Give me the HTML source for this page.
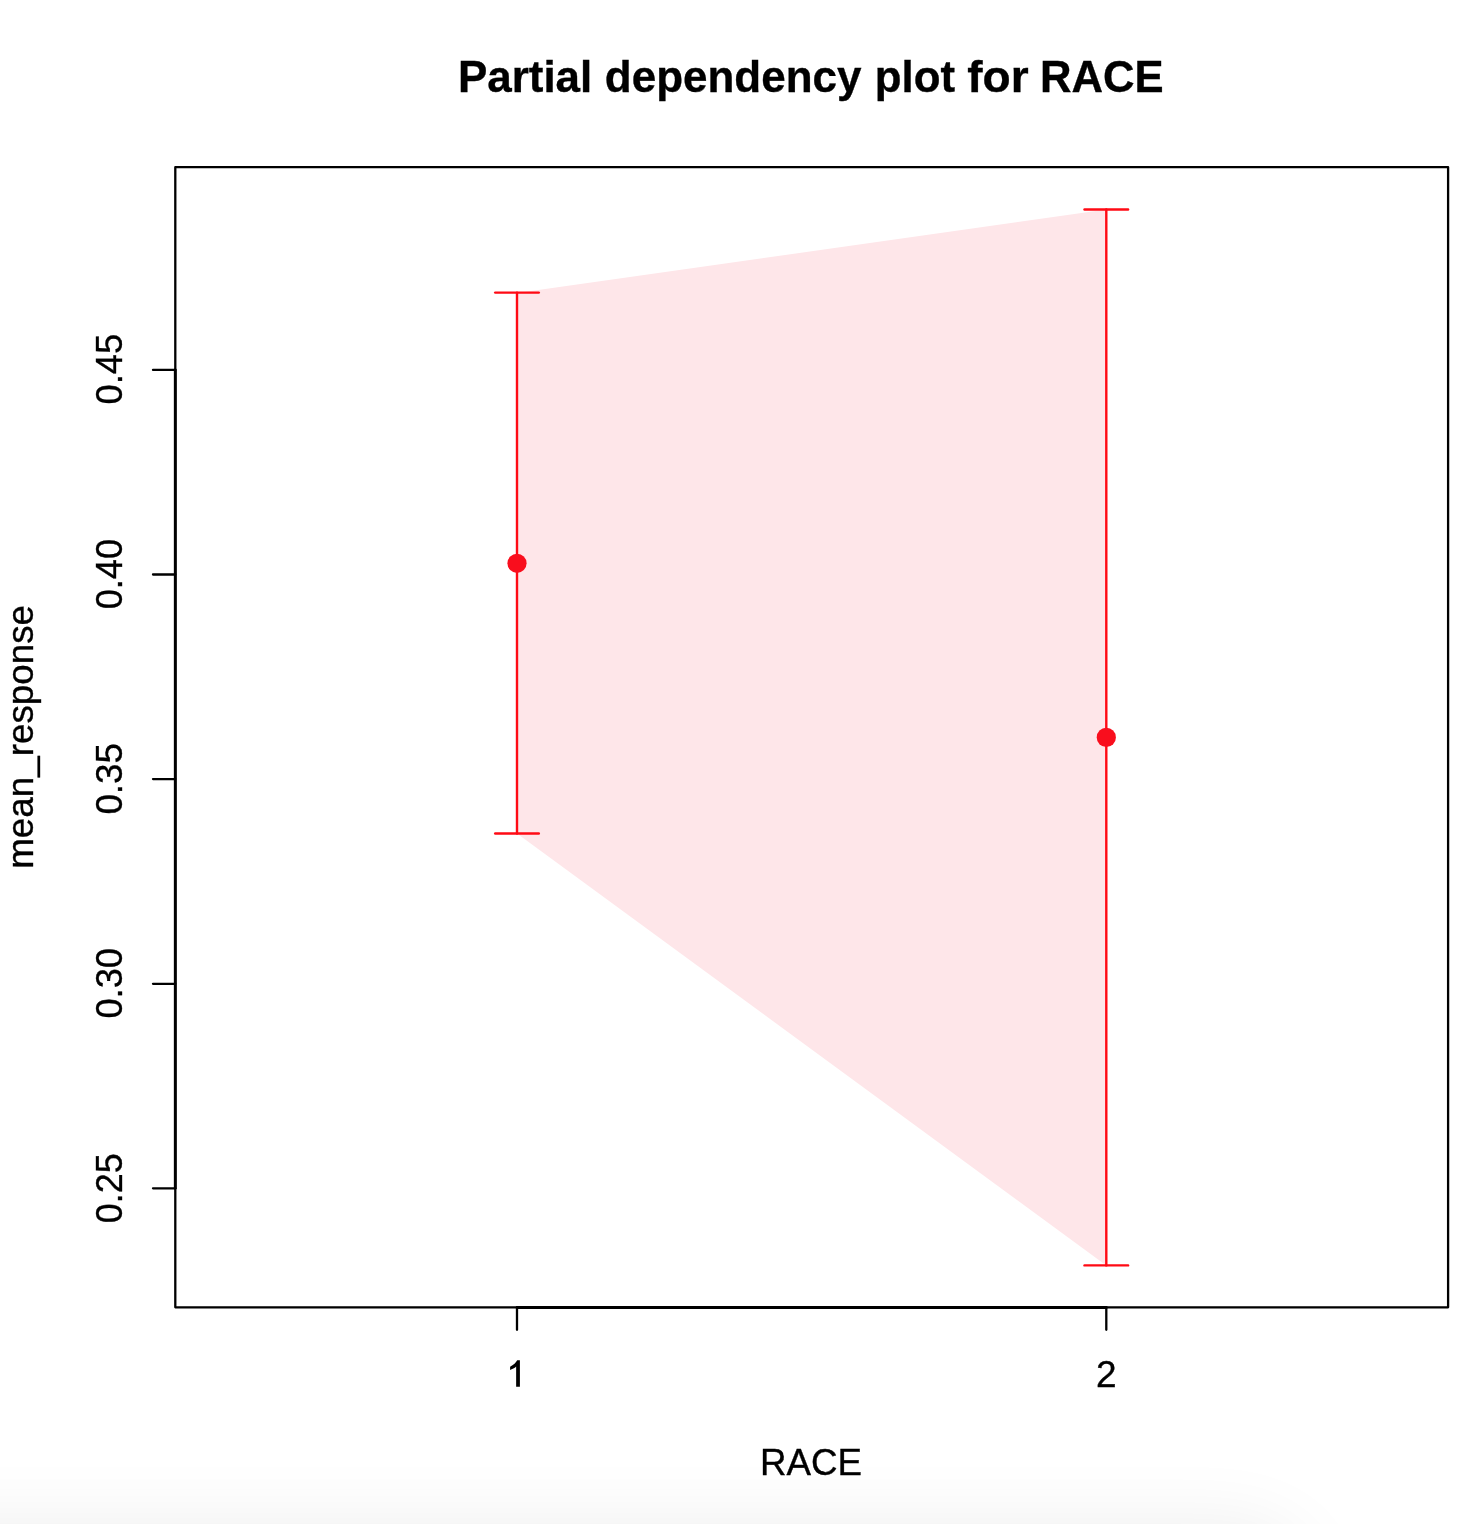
<!DOCTYPE html>
<html><head><meta charset="utf-8"><style>
html,body{margin:0;padding:0;background:#fff;width:1484px;height:1524px;overflow:hidden;position:relative}
#shade{position:absolute;left:-300px;top:1526px;width:1608px;height:300px;border-radius:70px;box-shadow:0 0 76px 0 rgba(0,0,0,0.075);background:#eee}
svg{display:block;will-change:transform}
text{font-family:"Liberation Sans",sans-serif;fill:#000;stroke:#000;stroke-width:0.35px}
</style></head><body>
<svg width="1484" height="1524" viewBox="0 0 1484 1524">
<g font-size="44.2" font-weight="bold" style="stroke-width:0.15px"><text x="457.9" y="92" textLength="134.4" lengthAdjust="spacingAndGlyphs">Partial</text><text x="604.8" y="92" textLength="256.7" lengthAdjust="spacingAndGlyphs">dependency</text><text x="874.8" y="92" textLength="80.26" lengthAdjust="spacingAndGlyphs">plot</text><text x="967.2" y="92" textLength="61.4" lengthAdjust="spacingAndGlyphs">for</text><text x="1040.0" y="92" textLength="123.6" lengthAdjust="spacingAndGlyphs">RACE</text></g>
<polygon points="517,293 1106.3,209.5 1106.3,1265.4 517,833.5" fill="#fee6e9"/>
<g stroke="#ff0a14" stroke-width="2.4" stroke-linecap="round" fill="none">
<line x1="517" y1="292.6" x2="517" y2="833.5"/>
<line x1="495.2" y1="292.6" x2="538.8" y2="292.6"/>
<line x1="495.2" y1="833.5" x2="538.8" y2="833.5"/>
<line x1="1106.3" y1="209.5" x2="1106.3" y2="1265.4"/>
<line x1="1084.5" y1="209.5" x2="1128.1" y2="209.5"/>
<line x1="1084.5" y1="1265.4" x2="1128.1" y2="1265.4"/>
</g>
<circle cx="517" cy="563.3" r="9.6" fill="#f90e1d"/>
<circle cx="1106.3" cy="737.4" r="9.6" fill="#f90e1d"/>
<g stroke="#000" stroke-width="2.3" stroke-linecap="round" stroke-linejoin="round" fill="none">
<rect x="175.3" y="167.2" width="1272.8" height="1140.1"/>
<line x1="153" y1="369.9" x2="175.3" y2="369.9"/>
<line x1="153" y1="574.5" x2="175.3" y2="574.5"/>
<line x1="153" y1="779.1" x2="175.3" y2="779.1"/>
<line x1="153" y1="983.8" x2="175.3" y2="983.8"/>
<line x1="153" y1="1188.3" x2="175.3" y2="1188.3"/>
<line x1="517" y1="1307.5" x2="1106.3" y2="1307.5" stroke-width="2.8"/>
<line x1="175.3" y1="369.9" x2="175.3" y2="1188.3" stroke-width="2.9"/>
<line x1="517" y1="1307.3" x2="517" y2="1329.8"/>
<line x1="1106.3" y1="1307.3" x2="1106.3" y2="1329.8"/>
</g>
<g font-size="37">
<text transform="translate(122,369.25) rotate(-90)" text-anchor="middle" textLength="70.6" lengthAdjust="spacingAndGlyphs">0.45</text>
<text transform="translate(122,574.15) rotate(-90)" text-anchor="middle" textLength="70.3" lengthAdjust="spacingAndGlyphs">0.40</text>
<text transform="translate(122,778.8) rotate(-90)" text-anchor="middle" textLength="71.6" lengthAdjust="spacingAndGlyphs">0.35</text>
<text transform="translate(122,983.3) rotate(-90)" text-anchor="middle" textLength="70.6" lengthAdjust="spacingAndGlyphs">0.30</text>
<text transform="translate(122,1188.35) rotate(-90)" text-anchor="middle" textLength="69.9" lengthAdjust="spacingAndGlyphs">0.25</text>
<text x="1106.3" y="1387" text-anchor="middle">2</text>
<text x="759.9" y="1475" textLength="102.0" lengthAdjust="spacingAndGlyphs">RACE</text>
<text transform="translate(32.8,736.9) rotate(-90)" text-anchor="middle" font-size="36.5" textLength="263.8" lengthAdjust="spacingAndGlyphs">mean_response</text>
</g>
<path d="M516.14,1386.8 L519.9,1386.8 L519.9,1360.3 L517.2,1360.3 C516.0,1362.6 514.3,1364.2 510.1,1366.7 L510.1,1369.9 C513.2,1368.7 515.0,1367.6 516.14,1366.4 Z" fill="#000"/>
</svg>
<div id="shade"></div>
</body></html>
